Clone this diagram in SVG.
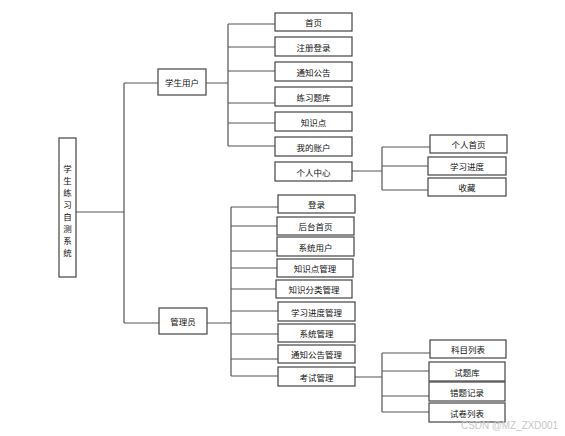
<svg xmlns="http://www.w3.org/2000/svg" width="565" height="436" viewBox="0 0 565 436">
<style>
rect{fill:#fff;stroke:#444;stroke-width:1.2}
text{font-family:"Noto Sans CJK SC","Noto Sans",sans-serif;font-size:8.5px;fill:#111;text-anchor:middle;dominant-baseline:central}
.c path{fill:none;stroke:#555;stroke-width:1.2}
.wm{font-family:"Liberation Sans",Arial,sans-serif;font-size:10px;fill:#c8c8c8;text-anchor:start;dominant-baseline:auto}
</style>
<rect x="0" y="0" width="565" height="436" style="fill:#fff;stroke:none"/>
<g class="c">
<path d="M76 212H124M124 83V323M124 83H158M124 323H159"/>
<path d="M206 83H228M228 24V146M228 24H275M228 47H275M228 71H275M228 103H275M228 123H275M228 146H275"/>
<path d="M352 171H382M382 147V190M382 147H430M382 166H428M382 190H428"/>
<path d="M207 323H231M231 207V376M231 207H278M231 226H277M231 251H277M231 268H277M231 289H276M231 311H278M231 334H278M231 359H278M231 376H278"/>
<path d="M355 377H382M382 353V412M382 353H430M382 371H429M382 396H429M382 412H429"/>
</g>
<g id="root"><rect x="59" y="138" width="17" height="139"/>
<text x="67.5" y="168">学</text><text x="67.5" y="180">生</text><text x="67.5" y="192">练</text><text x="67.5" y="204">习</text><text x="67.5" y="216">自</text><text x="67.5" y="228">测</text><text x="67.5" y="240">系</text><text x="67.5" y="252">统</text></g>
<g id="student"><rect x="158" y="69" width="48" height="26"/><text x="182" y="82">学生用户</text></g>
<g id="admin"><rect x="159" y="308" width="48" height="26"/><text x="183" y="321">管理员</text></g>
<g id="s1"><rect x="275" y="13" width="77" height="18"/><text x="313.5" y="22">首页</text></g>
<g id="s2"><rect x="275" y="37" width="77" height="19"/><text x="313.5" y="46.5">注册登录</text></g>
<g id="s3"><rect x="275" y="62" width="77" height="19"/><text x="313.5" y="71.5">通知公告</text></g>
<g id="s4"><rect x="275" y="87" width="77" height="19"/><text x="313.5" y="96.5">练习题库</text></g>
<g id="s5"><rect x="275" y="112" width="77" height="19"/><text x="313.5" y="121.5">知识点</text></g>
<g id="s6"><rect x="275" y="137" width="77" height="19"/><text x="313.5" y="146.5">我的账户</text></g>
<g id="s7"><rect x="275" y="162" width="77" height="19"/><text x="313.5" y="171.5">个人中心</text></g>
<g id="p1"><rect x="430" y="135" width="77" height="18"/><text x="468.5" y="144">个人首页</text></g>
<g id="p2"><rect x="428" y="157" width="78" height="18"/><text x="467" y="166">学习进度</text></g>
<g id="p3"><rect x="428" y="178" width="78" height="18"/><text x="467" y="187">收藏</text></g>
<g id="a1"><rect x="278" y="195" width="77" height="18"/><text x="316.5" y="204">登录</text></g>
<g id="a2"><rect x="277" y="217" width="77" height="18"/><text x="315.5" y="226">后台首页</text></g>
<g id="a3"><rect x="277" y="237" width="77" height="19"/><text x="315.5" y="246.5">系统用户</text></g>
<g id="a4"><rect x="277" y="259" width="76" height="18"/><text x="315" y="268">知识点管理</text></g>
<g id="a5"><rect x="276" y="280" width="76" height="18"/><text x="314" y="289">知识分类管理</text></g>
<g id="a6"><rect x="278" y="302" width="77" height="19"/><text x="316.5" y="311.5">学习进度管理</text></g>
<g id="a7"><rect x="278" y="324" width="77" height="18"/><text x="316.5" y="333">系统管理</text></g>
<g id="a8"><rect x="278" y="345" width="77" height="18"/><text x="316.5" y="354">通知公告管理</text></g>
<g id="a9"><rect x="278" y="367" width="77" height="19"/><text x="316.5" y="376.5">考试管理</text></g>
<g id="e1"><rect x="430" y="340" width="76" height="18"/><text x="468" y="349">科目列表</text></g>
<g id="e2"><rect x="429" y="362" width="76" height="19"/><text x="467" y="371.5">试题库</text></g>
<g id="e3"><rect x="429" y="382" width="76" height="19"/><text x="467" y="391.5">错题记录</text></g>
<g id="e4"><rect x="429" y="403" width="76" height="19"/><text x="467" y="412.5">试卷列表</text></g>
<text class="wm" x="461" y="429" textLength="97" lengthAdjust="spacingAndGlyphs">CSDN @MZ_ZXD001</text>
</svg>
